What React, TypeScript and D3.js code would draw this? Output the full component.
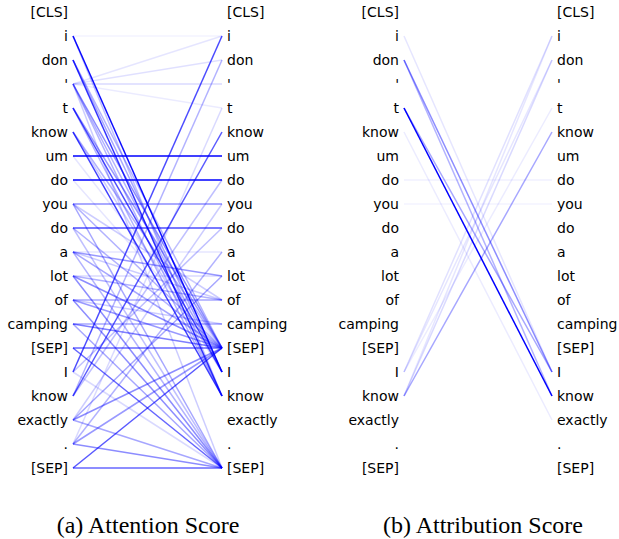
import React from "react";
import * as d3 from "d3";

const tokens = ["[CLS]", "i", "don", "'", "t", "know", "um", "do", "you", "do", "a", "lot", "of", "camping", "[SEP]", "I", "know", "exactly", ".", "[SEP]"];

// [source index, target index, weight]
const attentionLinks: [number, number, number][] = [
  [1, 15, 0.95], [1, 1, 0.05], [1, 16, 0.25],
  [2, 16, 0.8], [2, 15, 0.35], [2, 14, 0.3],
  [3, 1, 0.1], [3, 2, 0.12], [3, 3, 0.15], [3, 4, 0.08], [3, 14, 0.45], [3, 15, 0.3], [3, 16, 0.3], [3, 19, 0.2],
  [4, 15, 0.7], [4, 14, 0.4], [4, 16, 0.3],
  [5, 16, 0.75], [5, 14, 0.3], [5, 15, 0.2],
  [6, 6, 1.0], [6, 14, 0.1],
  [7, 7, 1.0], [7, 14, 0.1],
  [8, 8, 0.45], [8, 14, 0.3], [8, 19, 0.35], [8, 12, 0.2],
  [9, 9, 0.7], [9, 14, 0.3], [9, 19, 0.25],
  [10, 10, 0.1], [10, 11, 0.4], [10, 14, 0.35], [10, 19, 0.3], [10, 12, 0.2],
  [11, 11, 0.15], [11, 12, 0.3], [11, 14, 0.45], [11, 19, 0.45],
  [12, 12, 0.35], [12, 14, 0.4], [12, 19, 0.45], [12, 13, 0.2],
  [13, 13, 0.35], [13, 14, 0.5], [13, 19, 0.35],
  [14, 14, 0.6], [14, 19, 0.6],
  [15, 1, 0.7], [15, 9, 0.25], [15, 19, 0.15],
  [16, 5, 0.65], [16, 2, 0.3], [16, 7, 0.25],
  [17, 11, 0.35], [17, 14, 0.45], [17, 19, 0.35], [17, 8, 0.2],
  [18, 14, 0.4], [18, 19, 0.45], [18, 10, 0.3], [18, 4, 0.15],
  [19, 19, 0.6], [19, 14, 0.65],
];

const attributionLinks: [number, number, number][] = [
  [1, 15, 0.1],
  [2, 15, 0.45], [2, 16, 0.3],
  [4, 16, 1.0], [4, 15, 0.35],
  [5, 17, 0.08],
  [7, 7, 0.06],
  [8, 8, 0.05],
  [15, 1, 0.12], [15, 2, 0.1], [15, 4, 0.08],
  [16, 5, 0.35], [16, 2, 0.15], [16, 1, 0.1],
];

const captions = ["(a) Attention Score", "(b) Attribution Score"];

const W = 619;
const H = 539;

const y = d3.scaleLinear().domain([0, tokens.length - 1]).range([12, 468]);
const alpha = d3.scaleLinear().domain([0, 1]).range([0, 1]).clamp(true);

const panels = [
  { x0: 73, x1: 222, links: attentionLinks, caption: captions[0], cx: 148 },
  { x0: 404, x1: 552, links: attributionLinks, caption: captions[1], cx: 483 },
];

const lineGen = d3.line<[number, number]>().x((d) => d[0]).y((d) => d[1]);

export default function App() {
  return (
    <svg width={W} height={H} style={{ position: "absolute", left: 0, top: 0, background: "#fff" }}>
      {panels.map((p, pi) => (
        <g key={pi}>
          {p.links.map(([s, t, w], i) => (
            <path
              key={i}
              d={lineGen([[p.x0, y(s)], [p.x1, y(t)]]) || ""}
              stroke="#0000ff"
              strokeOpacity={alpha(w)}
              strokeWidth={1.5}
              fill="none"
            />
          ))}
          {tokens.map((tok, i) => (
            <text
              key={"l" + i}
              x={p.x0 - 5}
              y={y(i)}
              textAnchor="end"
              dominantBaseline="central"
              fontFamily="DejaVu Sans"
              fontSize={14}
              fill="#000"
            >
              {tok}
            </text>
          ))}
          {tokens.map((tok, i) => (
            <text
              key={"r" + i}
              x={p.x1 + 5}
              y={y(i)}
              textAnchor="start"
              dominantBaseline="central"
              fontFamily="DejaVu Sans"
              fontSize={14}
              fill="#000"
            >
              {tok}
            </text>
          ))}
          <text
            x={p.cx}
            y={533}
            textAnchor="middle"
            fontFamily="Liberation Serif"
            fontSize={24}
            fill="#000"
          >
            {p.caption}
          </text>
        </g>
      ))}
    </svg>
  );
}
